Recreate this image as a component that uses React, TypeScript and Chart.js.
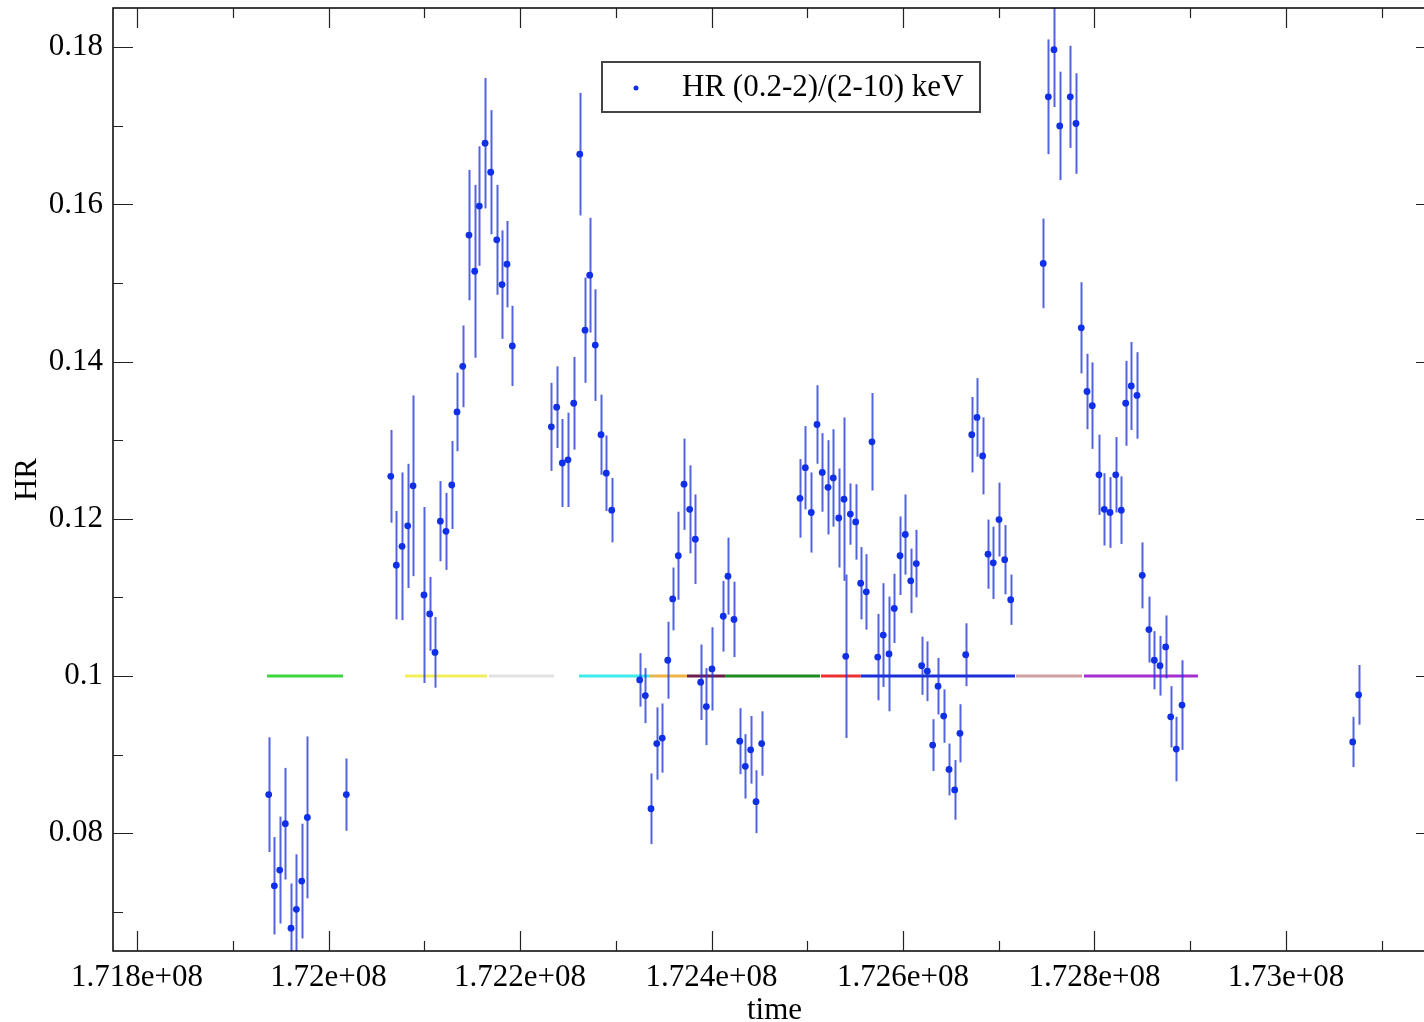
import React, { useEffect, useRef } from 'react';
import { Chart, registerables } from 'chart.js';

Chart.register(...registerables);

// ---------- data ----------
const times = [
  171937500, 171943400, 171949000, 171954900, 171960800, 171966400, 171972000, 171977900, 172018600,
  172065000, 172070800, 172076800, 172082700, 172088300, 172099700, 172105700, 172111200, 172116800, 172122700,
  172128700, 172134200, 172140200, 172146700, 172152700, 172157500, 172163500, 172169400, 172175700, 172181200,
  172186400, 172192000,
  172232700, 172238300, 172244200, 172250100, 172256100, 172262400, 172267900, 172272800, 172278600, 172284600,
  172290100, 172295800,
  172325000, 172330900, 172336800, 172342800, 172348600, 172354300, 172359500, 172365300, 172371300, 172377200,
  172383100, 172388700, 172394600, 172400500, 172412300, 172417200, 172423500, 172429500, 172435300, 172440900,
  172446500, 172452400,
  172492400, 172498000, 172504200, 172510200, 172515700, 172521700, 172527200, 172532900, 172538400, 172540200,
  172545000, 172550600, 172555800, 172561700, 172567600, 172573600, 172579400, 172585400, 172590900, 172596900,
  172602400, 172608100, 172613900, 172619500, 172625400, 172631000, 172636600, 172642500, 172648100, 172654000,
  172659500, 172665500, 172671800, 172677300, 172683200, 172688800, 172694300, 172700300, 172706200, 172712500,
  172746500, 172751800, 172757700, 172763700, 172774700, 172780700, 172786200, 172792200, 172797700, 172804700,
  172810200, 172816200, 172822200, 172828000, 172832600, 172838400, 172844400, 172849900, 172856900, 172862500,
  172868400, 172874400, 172879600, 172885400, 172891400,
  173069700, 173075900,
];

const hrValues = [
  0.0849, 0.0733, 0.0753, 0.0812, 0.0679, 0.0703, 0.0739, 0.0820, 0.0849,
  0.1254, 0.1141, 0.1165, 0.1191, 0.1242, 0.1103, 0.1079, 0.1030, 0.1197, 0.1184,
  0.1243, 0.1336, 0.1394, 0.1561, 0.1515, 0.1598, 0.1678, 0.1641, 0.1555, 0.1498,
  0.1524, 0.1420,
  0.1317, 0.1342, 0.1271, 0.1275, 0.1347, 0.1664, 0.1440, 0.1510, 0.1421, 0.1307,
  0.1258, 0.1211,
  0.0995, 0.0975, 0.0831, 0.0914, 0.0921, 0.1020, 0.1098, 0.1153, 0.1244, 0.1212,
  0.1174, 0.0992, 0.0961, 0.1009, 0.1076, 0.1127, 0.1072, 0.0917, 0.0885, 0.0906,
  0.0840, 0.0914,
  0.1226, 0.1265, 0.1208, 0.1320, 0.1259, 0.1240, 0.1252, 0.1201, 0.1225, 0.1025,
  0.1206, 0.1196, 0.1118, 0.1107, 0.1298, 0.1024, 0.1052, 0.1028, 0.1086, 0.1153,
  0.1180, 0.1121, 0.1143, 0.1013, 0.1006, 0.0912, 0.0987, 0.0949, 0.0881, 0.0855,
  0.0927, 0.1027, 0.1307, 0.1329, 0.1280, 0.1155, 0.1144, 0.1199, 0.1148, 0.1097,
  0.1525, 0.1737, 0.1797, 0.1700, 0.1737, 0.1703, 0.1443, 0.1362, 0.1344, 0.1256,
  0.1212, 0.1208, 0.1256, 0.1211, 0.1347, 0.1369, 0.1357, 0.1128, 0.1059, 0.1020,
  0.1013, 0.1037, 0.0948, 0.0907, 0.0963,
  0.0916, 0.0976,
];

const hrErrors = [
  0.0073, 0.0062, 0.0068, 0.0071, 0.0057, 0.0070, 0.0073, 0.0103, 0.0046,
  0.0059, 0.0069, 0.0094, 0.0079, 0.0115, 0.0112, 0.0047, 0.0045, 0.0051, 0.0049,
  0.0056, 0.0050, 0.0052, 0.0083, 0.0110, 0.0076, 0.0083, 0.0079, 0.0070, 0.0069,
  0.0055, 0.0051,
  0.0056, 0.0052, 0.0056, 0.0060, 0.0059, 0.0078, 0.0067, 0.0073, 0.0071, 0.0051,
  0.0048, 0.0041,
  0.0034, 0.0035, 0.0045, 0.0046, 0.0044, 0.0049, 0.0040, 0.0056, 0.0058, 0.0056,
  0.0057, 0.0048, 0.0049, 0.0053, 0.0045, 0.0049, 0.0048, 0.0042, 0.0041, 0.0043,
  0.0040, 0.0041,
  0.0050, 0.0053, 0.0051, 0.0050, 0.0050, 0.0060, 0.0062, 0.0063, 0.0104, 0.0104,
  0.0039, 0.0048, 0.0046, 0.0048, 0.0062, 0.0055, 0.0066, 0.0073, 0.0044, 0.0050,
  0.0051, 0.0041, 0.0043, 0.0037, 0.0038, 0.0033, 0.0036, 0.0034, 0.0033, 0.0038,
  0.0037, 0.0040, 0.0048, 0.0050, 0.0049, 0.0044, 0.0046, 0.0047, 0.0044, 0.0032,
  0.0057, 0.0073, 0.0073, 0.0069, 0.0065, 0.0064, 0.0058, 0.0048, 0.0055, 0.0051,
  0.0046, 0.0045, 0.0048, 0.0043, 0.0054, 0.0056, 0.0055, 0.0042, 0.0042, 0.0037,
  0.0038, 0.0040, 0.0039, 0.0041, 0.0057,
  0.0032, 0.0038,
];

// coloured interval bars drawn at HR = 0.1
const segmentLevel = 0.1;
const segmentStarts = [171935800, 172079900, 172167600, 172261600, 172335800, 172374400, 172414100, 172514300, 172555800, 172718000, 172789000];
const segmentEnds = [172015100, 172165500, 172235500, 172335800, 172374400, 172414100, 172513300, 172555800, 172717000, 172787000, 172908100];
const segmentColors = ['#3ed43e', '#f2ee5a', '#e2e2e2', '#3cecec', '#f0b445', '#6b1f4f', '#1f8a1f', '#ec3030', '#1a2fd8', '#cfa0a0', '#a32fd0'];

// axes
const X_MIN = 171774900;
const X_MAX = 173156700;
const Y_MIN = 0.065;
const Y_MAX = 0.185;
const xTickValues = [171800000, 172000000, 172200000, 172400000, 172600000, 172800000, 173000000];
const xTickLabels = ['1.718e+08', '1.72e+08', '1.722e+08', '1.724e+08', '1.726e+08', '1.728e+08', '1.73e+08'];
const xMinorTicks = [171900000, 172100000, 172300000, 172500000, 172700000, 172900000, 173100000];
const yTickValues = [0.08, 0.1, 0.12, 0.14, 0.16, 0.18];
const yTickLabels = ['0.08', '0.1', '0.12', '0.14', '0.16', '0.18'];
const yMinorTicks = [0.07, 0.09, 0.11, 0.13, 0.15, 0.17];

const seriesLabel = 'HR (0.2-2)/(2-10) keV';
const xTitle = 'time';
const yTitle = 'HR';

const FONT = "'Liberation Serif', 'Times New Roman', serif";
const POINT_COLOR = '#1030e8';
const ERR_COLOR = 'rgba(35, 55, 215, 0.78)';

const xAllTicks = [...xTickValues, ...xMinorTicks].sort((a, b) => a - b);
const yAllTicks = [...yTickValues, ...yMinorTicks].sort((a, b) => a - b);

const xLabel = (v: number) => {
  const i = xTickValues.findIndex((t) => Math.abs(t - v) < 1);
  return i >= 0 ? xTickLabels[i] : '';
};
const yLabel = (v: number) => {
  const i = yTickValues.findIndex((t) => Math.abs(t - v) < 1e-9);
  return i >= 0 ? yTickLabels[i] : '';
};

const framePlugin = {
  id: 'frameAndErrors',
  beforeDatasetDraw(chart: any, args: any) {
    if (args.index !== 0) return;
    const { ctx, chartArea } = chart;
    const xs = chart.scales.x;
    const ys = chart.scales.y;
    ctx.save();
    ctx.beginPath();
    ctx.rect(chartArea.left, chartArea.top, chartArea.right - chartArea.left, chartArea.bottom - chartArea.top);
    ctx.clip();
    ctx.strokeStyle = ERR_COLOR;
    ctx.lineWidth = 2;
    for (let i = 0; i < times.length; i++) {
      const px = Math.round(xs.getPixelForValue(times[i])) + 0.5;
      const y1 = ys.getPixelForValue(hrValues[i] + hrErrors[i]);
      const y2 = ys.getPixelForValue(hrValues[i] - hrErrors[i]);
      ctx.beginPath();
      ctx.moveTo(px, y1);
      ctx.lineTo(px, y2);
      ctx.stroke();
    }
    ctx.restore();
  },
  afterDatasetsDraw(chart: any) {
    const { ctx, chartArea } = chart;
    const { left, right, top, bottom } = chartArea;
    const xs = chart.scales.x;
    const ys = chart.scales.y;
    ctx.save();
    ctx.strokeStyle = '#000';
    ctx.lineWidth = 1.5;
    ctx.strokeRect(left, top, right - left, bottom - top);
    const MAJOR = 20;
    const MINOR = 10;
    ctx.lineWidth = 1.2;
    ctx.strokeStyle = '#222';
    xs.ticks.forEach((t: any) => {
      const major = xLabel(t.value) !== '';
      const len = major ? MAJOR : MINOR;
      const px = Math.round(xs.getPixelForValue(t.value)) + 0.5;
      ctx.beginPath();
      ctx.moveTo(px, bottom);
      ctx.lineTo(px, bottom - len);
      ctx.moveTo(px, top);
      ctx.lineTo(px, top + len);
      ctx.stroke();
    });
    ys.ticks.forEach((t: any) => {
      const major = yLabel(t.value) !== '';
      const len = major ? MAJOR : MINOR;
      const py = Math.round(ys.getPixelForValue(t.value)) + 0.5;
      ctx.beginPath();
      ctx.moveTo(left, py);
      ctx.lineTo(left + len, py);
      ctx.moveTo(right, py);
      ctx.lineTo(right - len, py);
      ctx.stroke();
    });

    // legend box
    const bx = 602, by = 62, bw = 378, bh = 50;
    ctx.fillStyle = '#fff';
    ctx.fillRect(bx, by, bw, bh);
    ctx.strokeStyle = '#444';
    ctx.lineWidth = 2;
    ctx.strokeRect(bx, by, bw, bh);
    ctx.fillStyle = POINT_COLOR;
    ctx.beginPath();
    ctx.arc(bx + 34, by + 26, 2.5, 0, Math.PI * 2);
    ctx.fill();
    ctx.fillStyle = '#000';
    ctx.font = `31px ${FONT}`;
    ctx.textBaseline = 'middle';
    ctx.textAlign = 'left';
    ctx.fillText(chart.data.datasets[0].label, bx + 80, by + 26);
    ctx.restore();
  },
};

export default function App() {
  const ref = useRef<HTMLCanvasElement>(null);
  useEffect(() => {
    const datasets: any[] = [
      {
        type: 'scatter',
        label: seriesLabel,
        data: times.map((t, i) => ({ x: t, y: hrValues[i] })),
        backgroundColor: POINT_COLOR,
        borderColor: POINT_COLOR,
        pointRadius: 3.4,
        pointBorderWidth: 0,
        showLine: false,
        order: 0,
      },
      ...segmentStarts.map((s, i) => ({
        type: 'line',
        label: 'seg' + i,
        data: [
          { x: s, y: segmentLevel },
          { x: segmentEnds[i], y: segmentLevel },
        ],
        borderColor: segmentColors[i],
        borderWidth: 3,
        pointRadius: 0,
        fill: false,
        order: 1,
      })),
    ];
    const chart = new Chart(ref.current as HTMLCanvasElement, {
      type: 'scatter',
      data: { datasets },
      options: {
        animation: false,
        responsive: false,
        devicePixelRatio: 1,
        layout: { padding: { left: 0, top: 8, right: 14, bottom: 0 } },
        plugins: { legend: { display: false }, tooltip: { enabled: false } },
        scales: {
          x: {
            type: 'linear',
            min: X_MIN,
            max: X_MAX,
            afterBuildTicks: (s: any) => {
              s.ticks = xAllTicks.map((v) => ({ value: v }));
            },
            afterFit: (s: any) => {
              s.height = 71;
              s.paddingLeft = 0;
              s.paddingRight = 0;
            },
            grid: { display: false, drawTicks: false },
            border: { display: false },
            ticks: {
              autoSkip: false,
              maxRotation: 0,
              minRotation: 0,
              padding: 8,
              color: '#000',
              font: { family: FONT, size: 31 },
              callback: (v: any) => xLabel(Number(v)),
            },
            title: {
              display: true,
              text: xTitle,
              color: '#000',
              font: { family: FONT, size: 31 },
              padding: { top: 0, bottom: -7 },
            },
          },
          y: {
            type: 'linear',
            min: Y_MIN,
            max: Y_MAX,
            afterBuildTicks: (s: any) => {
              s.ticks = yAllTicks.map((v) => ({ value: v }));
            },
            afterFit: (s: any) => {
              s.width = 113;
              s.paddingTop = 0;
              s.paddingBottom = 0;
            },
            grid: { display: false, drawTicks: false },
            border: { display: false },
            ticks: {
              autoSkip: false,
              padding: 10,
              color: '#000',
              font: { family: FONT, size: 31 },
              callback: (v: any) => yLabel(Number(v)),
            },
            title: {
              display: true,
              text: yTitle,
              color: '#000',
              font: { family: FONT, size: 31 },
              padding: { top: 9, bottom: 0 },
            },
          },
        },
      },
      plugins: [framePlugin],
    } as any);
    return () => chart.destroy();
  }, []);
  return (
    <div
      style={{
        position: 'fixed',
        left: 0,
        top: 0,
        width: 1424,
        height: 1022,
        overflow: 'hidden',
        background: '#fff',
      }}
    >
      <canvas ref={ref} width={1450} height={1022} style={{ display: 'block' }} />
    </div>
  );
}
